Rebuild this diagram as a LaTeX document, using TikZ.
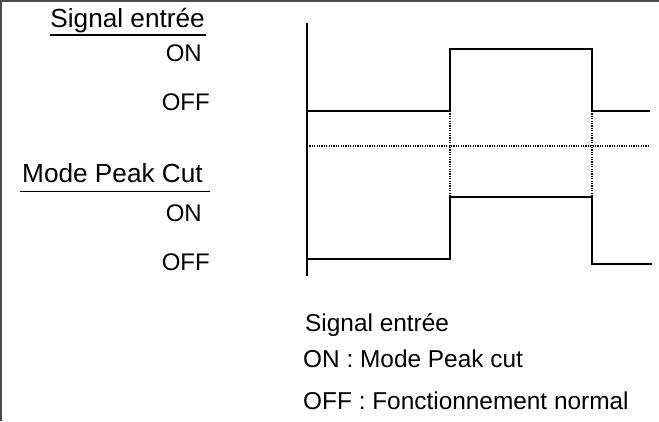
\documentclass[tikz,border=0pt]{standalone}
\usepackage{fontspec}
\setmainfont{Liberation Sans}
\begin{document}
\begin{tikzpicture}[x=1pt,y=-1pt,
  sig/.style={line width=1.6pt, line join=miter},
  dotline/.style={line width=1.3pt, dash pattern=on 1.1pt off 1.3pt},
  frameline/.style={line width=1.6pt, draw=black!70},
  ulabel/.style={inner sep=0pt, font=\fontsize{26.2}{30}\selectfont},
  lvl/.style={inner sep=0pt, font=\fontsize{24}{28}\selectfont},
  note/.style={inner sep=0pt, font=\fontsize{24.4}{28}\selectfont}]
\useasboundingbox (0,0) rectangle (659,421);
% frame
\draw[frameline] (1,421) -- (1,1) -- (659,1);
% axis
\coordinate (axtop) at (307,23);
\coordinate (axbot) at (307,276);
\draw[sig] (axtop) -- (axbot);
% input signal
\coordinate (s0) at (307,111);
\coordinate (s1) at (450,111);
\coordinate (s2) at (450,49);
\coordinate (s3) at (592,49);
\coordinate (s4) at (592,111);
\coordinate (s5) at (650,111);
\draw[sig] (s0) -- (s1) -- (s2) -- (s3) -- (s4) -- (s5);
% mode signal
\coordinate (m0) at (307,259);
\coordinate (m1) at (450,259);
\coordinate (m2) at (450,197);
\coordinate (m3) at (592,197);
\coordinate (m4) at (592,264);
\coordinate (m5) at (652,264);
\draw[sig] (m0) -- (m1) -- (m2) -- (m3) -- (m4) -- (m5);
% dotted lines
\coordinate (d0) at (307,146);
\coordinate (d1) at (648,146);
\draw[dotline] (d0) -- (d1);
\draw[dotline] (s1) -- (m2);
\draw[dotline] (s4) -- (m3);
% labels
\node[ulabel, anchor=base east] (t1) at (205,27.5) {Signal entrée};
\draw[line width=1.3pt] (50,35) -- (206,35);
\node[lvl, anchor=base east] (on1) at (202,61) {ON};
\node[lvl, anchor=base east] (off1) at (210,110.5) {OFF};
\node[ulabel, anchor=base east] (t2) at (203,182.5) {Mode Peak Cut};
\draw[line width=1.3pt] (20,191.5) -- (210,191.5);
\node[lvl, anchor=base east] (on2) at (202,221) {ON};
\node[lvl, anchor=base east] (off2) at (210,270) {OFF};
% notes
\node[note, anchor=base west] (n1) at (305,331.5) {Signal entrée};
\node[note, anchor=base west] (n2) at (303,367.5) {ON : Mode Peak cut};
\node[note, anchor=base west] (n3) at (303,409) {OFF : Fonctionnement normal};
\end{tikzpicture}
\end{document}
